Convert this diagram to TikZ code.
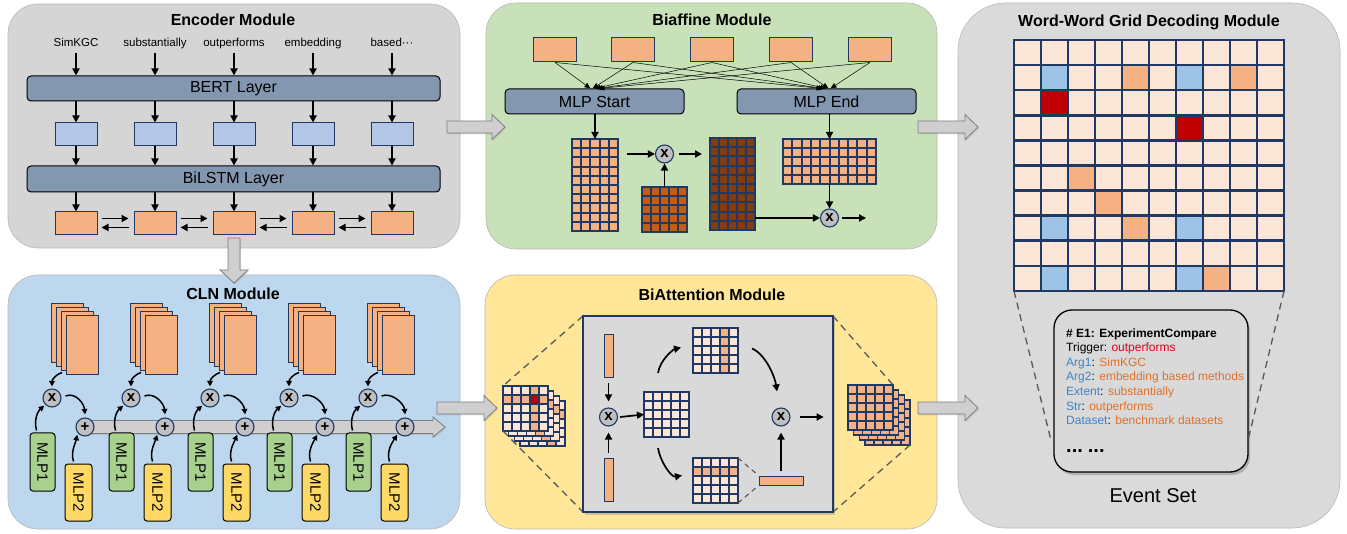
\documentclass[tikz,border=0pt]{standalone}
\usepackage{fontspec}
\setmainfont{Liberation Sans}
\usetikzlibrary{arrows.meta,shadows,calc}
\definecolor{encbg}{HTML}{D6D5D5}
\definecolor{grnbg}{HTML}{C8E1B9}
\definecolor{blubg}{HTML}{BDD7EE}
\definecolor{yelbg}{HTML}{FFE699}
\definecolor{gridbg}{HTML}{DADADA}
\definecolor{slate}{HTML}{8497B0}
\definecolor{lblue}{HTML}{B4C7E7}
\definecolor{ora}{HTML}{F4B183}
\definecolor{lora}{HTML}{FBE5D6}
\definecolor{dora}{HTML}{C55A11}
\definecolor{dbrown}{HTML}{843C0C}
\definecolor{dred}{HTML}{C00000}
\definecolor{cblue}{HTML}{9DC3E6}
\definecolor{navy}{HTML}{203864}
\definecolor{mgreen}{HTML}{A9D18E}
\definecolor{myellow}{HTML}{FFD966}
\definecolor{circ}{HTML}{BFBFBF}
\definecolor{garr}{HTML}{D0CECE}
\definecolor{garrb}{HTML}{7F7F7F}
\definecolor{tblue}{HTML}{3F83C9}
\definecolor{tora}{HTML}{E0702A}
\definecolor{tred}{HTML}{E3001B}
\definecolor{inbg}{HTML}{D9D9D9}
\newcommand{\fsz}[1]{\fontsize{#1}{#1}\selectfont}
\newcommand{\gbase}[7]{\fill[#7] (#1,#2) rectangle ({#1+#3*#5},{#2+#4*#6});}
\newcommand{\glines}[7]{%
  \foreach \ii in {0,...,#3}{\draw[navy,line width=#7,line cap=rect] ({#1+\ii*#5},#2) -- ({#1+\ii*#5},{#2+#4*#6});}%
  \foreach \jj in {0,...,#4}{\draw[navy,line width=#7,line cap=rect] (#1,{#2+\jj*#6}) -- ({#1+#3*#5},{#2+\jj*#6});}%
}
\newcommand{\gcell}[7]{\fill[#7] ({#1+#5*#3},{#2+#6*#4}) rectangle ++(#3,#4);}
\newcommand{\rblock}[3]{%
  \filldraw[garrow] (#1,{#3-6}) -- ({#2-13},{#3-6}) -- ({#2-13},{#3-12.5}) -- (#2,#3) -- ({#2-13},{#3+12.5}) -- ({#2-13},{#3+6}) -- (#1,{#3+6}) -- cycle;}
\begin{document}
\begin{tikzpicture}[x=1pt,y=-1pt,
  panel/.style={draw=white!72!black,line width=0.6pt,rounded corners=30pt},
  title/.style={font=\bfseries\fsz{16}},
  arr/.style={-{Triangle[length=7pt,width=7pt]},line width=1.7pt},
  tarr/.style={-{Triangle[length=6pt,width=5pt]},line width=0.5pt},
  carr/.style={-{Triangle[length=5.5pt,width=5.5pt]},line width=1.5pt},
  bar/.style={draw=black,fill=slate,rounded corners=4pt,line width=1pt,inner sep=0},
  ebox/.style={draw=navy,fill=#1,line width=1pt,minimum width=42pt,minimum height=23pt,inner sep=0},
  opc/.style={circle,draw=navy,fill=circ,line width=1.1pt,minimum size=18pt,inner sep=0,font=\bfseries\fsz{15}},
  garrow/.style={fill=garr,draw=garrb,line width=0.8pt,drop shadow={opacity=0.25,shadow xshift=1pt,shadow yshift=-1.5pt}},
  mlp/.style={draw=black,rounded corners=3pt,line width=1pt,minimum width=25pt,minimum height=58pt,inner sep=0,font=\fsz{15}},
  invis/.style={inner sep=0,outer sep=0},
  dashl/.style={draw=black!65,line width=1.3pt,dash pattern=on 7pt off 5pt},
  evt/.style={anchor=base west,inner sep=0,font=\fsz{12}}
]
\useasboundingbox (0,0) rectangle (1347,534);
\fill[white] (0,0) rectangle (1347,534);

% ---------- panels
\filldraw[panel,fill=encbg] (8,4) rectangle (460,248);
\filldraw[panel,fill=grnbg] (486,3) rectangle (937,249);
\filldraw[panel,fill=gridbg,rounded corners=48pt] (958,3) rectangle (1340,528);
\filldraw[panel,fill=blubg] (8,275) rectangle (460,529);
\filldraw[panel,fill=yelbg] (485,275) rectangle (937,529);

% ---------- big gray arrows
\rblock{447}{505}{127}
\rblock{918}{978}{127}
\rblock{437}{497}{408}
\rblock{918}{978}{408}
\filldraw[garrow] (228,238) -- (228,270) -- (220,270) -- (234,283) -- (248,270) -- (240,270) -- (240,238) -- cycle;

% ---------- titles
\node[title] (tenc) at (233,20) {Encoder Module};
\node[title] (tbia) at (712,20) {Biaffine Module};
\node[title] (tgrid) at (1149,22) {Word-Word Grid Decoding Module};
\node[title] (tcln) at (233,294) {CLN Module};
\node[title] (tbat) at (712,295) {BiAttention Module};

% ---------- encoder
\foreach \x/\w [count=\i] in {76/SimKGC,155/substantially,234/outperforms,313/embedding,392/based···}{
  \node[anchor=base,font=\fsz{11.5},inner sep=1pt] (w\i) at (\x,47) {\w};
}
\node[bar,minimum width=413pt,minimum height=25pt,font=\fsz{16}] (bert) at (233.5,88.5) {BERT Layer};
\node[bar,minimum width=413pt,minimum height=26pt,font=\fsz{16}] (lstm) at (233.5,179) {BiLSTM Layer};
\foreach \x [count=\i] in {76,155,234,313,392}{
  \node[ebox=lblue] (b\i) at (\x,134.5) {};
  \node[ebox=ora] (o\i) at (\x,223.5) {};
  \draw[arr] ([yshift=-6pt]w\i.base) -- (w\i.base |- bert.north);
  \draw[arr] (bert.south -| b\i) -- (b\i.north);
  \draw[arr] (b\i.south) -- (b\i.south |- lstm.north);
  \draw[arr] (lstm.south -| o\i) -- (o\i.north);
}
\foreach \i/\j in {1/2,2/3,3/4,4/5}{
  \draw[arr] ([xshift=4pt,yshift=5pt]o\i.east) -- ([xshift=-5pt,yshift=5pt]o\j.west);
  \draw[arr] ([xshift=-5pt,yshift=-4pt]o\j.west) -- ([xshift=4pt,yshift=-4pt]o\i.east);
}

% ---------- biaffine
\foreach \x [count=\i] in {555,633,712,791,870}{
  \node[ebox=ora,minimum width=43pt,minimum height=24pt] (t\i) at (\x,50) {};
}
\node[bar,minimum width=179pt,minimum height=25pt,font=\fsz{16}] (ms) at (594.5,101.5) {MLP Start};
\node[bar,minimum width=179pt,minimum height=25pt,font=\fsz{16}] (me) at (826.5,101.5) {MLP End};
\foreach \i/\d in {1/-4,2/-2,3/0,4/2,5/4}{
  \draw[tarr] (t\i.south) -- ([xshift=\d pt]ms.north);
  \draw[tarr] (t\i.south) -- ([xshift=\d pt]me.north);
}
\gbase{572}{139}{5}{10}{9.2}{9.2}{ora}
\glines{572}{139}{5}{10}{9.2}{9.2}{2pt}
\node[invis,minimum width=46pt,minimum height=92pt] (m1) at (595,185) {};
\gbase{642}{187}{5}{5}{9}{9}{dora}
\glines{642}{187}{5}{5}{9}{9}{2pt}
\node[invis,minimum width=45pt,minimum height=45pt] (m2) at (664.5,209.5) {};
\gbase{710}{138}{5}{10}{9}{9.2}{dbrown}
\glines{710}{138}{5}{10}{9}{9.2}{2pt}
\node[invis,minimum width=45pt,minimum height=92pt] (m3) at (732.5,184) {};
\gbase{783}{139}{10}{5}{9.3}{9}{ora}
\glines{783}{139}{10}{5}{9.3}{9}{2pt}
\node[invis,minimum width=93pt,minimum height=45pt] (m4) at (829.5,161.5) {};
\node[opc] (c1) at (664.5,154) {x};
\node[opc] (c2) at (829.5,218) {x};
\draw[arr] (ms.south -| m1.north) -- (m1.north);
\draw[arr] ($(m1.east |- c1)+(9,0)$) -- (c1.west);
\draw[arr] ($(c1.east)+(5,0)$) -- ($(m3.west |- c1)+(-8,0)$);
\draw[arr] (m2.north) -- (c1.south);
\draw[arr] (me.south -| m4.north) -- (m4.north);
\draw[arr] (m4.south) -- (c2.north);
\draw[arr] (m3.east |- c2) -- (c2.west);
\draw[arr] ($(c2.east)+(3,0)$) -- ($(c2.east)+(27,0)$);

% ---------- grid decoding
\gbase{1014}{40}{10}{10}{27}{25.1}{lora}
\foreach \c/\r/\k in {1/1/cblue,4/1/ora,6/1/cblue,8/1/ora,1/2/dred,6/3/dred,2/5/ora,3/6/ora,1/7/cblue,4/7/ora,6/7/cblue,1/9/cblue,6/9/cblue,7/9/ora}{
  \gcell{1014}{40}{27}{25.1}{\c}{\r}{\k}
}
\glines{1014}{40}{10}{10}{27}{25.1}{2.6pt}
\node[invis,minimum width=270pt,minimum height=251pt] (gr) at (1149,165.5) {};
\node[draw=black,fill=inbg,rounded corners=18pt,line width=1.3pt,minimum width=194pt,minimum height=162pt,inner sep=0,
  drop shadow={opacity=0.45,shadow xshift=2pt,shadow yshift=-3pt}] (ev) at (1151,391) {};
\draw[dashl] (gr.south west) -- ($(ev.south west)+(-3,-35)$);
\draw[dashl] (gr.south east) -- ($(ev.south east)+(0,-35)$);
\node[evt,font=\bfseries\fsz{12}] (l1) at (1066,337.5) {\# E1: ExperimentCompare};
\node[evt] (l2) at (1066,352) {Trigger: \textcolor{tred}{outperforms}};
\node[evt] (l3) at (1066,366.5) {\textcolor{tblue}{Arg1}: \textcolor{tora}{SimKGC}};
\node[evt] (l4) at (1066,381) {\textcolor{tblue}{Arg2}: \textcolor{tora}{embedding based methods}};
\node[evt] (l5) at (1066,395.5) {\textcolor{tblue}{Extent}: \textcolor{tora}{substantially}};
\node[evt] (l6) at (1066,410) {\textcolor{tblue}{Str}: \textcolor{tora}{outperforms}};
\node[evt] (l7) at (1066,424.5) {\textcolor{tblue}{Dataset}: \textcolor{tora}{benchmark datasets}};
\node[evt,font=\bfseries\fsz{20}] (l8) at (1066,453) {...\hspace{5pt}...};
\node[font=\fsz{20}] (es) at (1153,496) {Event Set};

% ---------- CLN
\coordinate (bs) at (85,427);
\filldraw[garrow] ($(bs)+(0,-6.5)$) -- (433,420.5) -- (433,417) -- (445,427) -- (433,437) -- (433,433.5) -- ($(bs)+(0,6.5)$) -- cycle;
\foreach \k in {0,...,4}{
  \pgfmathsetmacro{\fx}{66+79*\k}
  \foreach \l in {3,2,1}{
    \filldraw[fill=ora,draw=navy,line width=1pt] ({\fx-4.7*\l},{316-4*\l}) rectangle ++(32,59);
  }
  \node[draw=navy,fill=ora,line width=1pt,minimum width=32pt,minimum height=59pt,inner sep=0] (st\k) at ({\fx+16},345.5) {};
  \node[opc] (cx\k) at ({52+79*\k},398) {x};
  \node[opc] (pl\k) at ({85+80*\k},427) {+};
  \node[mlp,fill=mgreen] (ma\k) at ({42.5+79*\k},462) {\rotatebox{-90}{MLP1}};
  \node[mlp,fill=myellow,minimum width=27pt,minimum height=57pt] (mb\k) at ({78.5+79*\k},492.5) {\rotatebox{-90}{MLP2}};
  \draw[carr] ($(cx\k.north)+(10,-16)$) .. controls ($(cx\k.north)+(4,-14)$) and ($(cx\k.north)+(0,-9)$) .. ($(cx\k.north)+(0,-2)$);
  \draw[carr] ($(cx\k.east)+(4,-2)$) .. controls ($(cx\k.east)+(14,-6)$) and ($(pl\k.north)+(-1,-14)$) .. ($(pl\k.north)+(0,-3)$);
  \draw[carr] ($(ma\k.north)+(-6,-2)$) .. controls ($(ma\k.north)+(-9,-14)$) and ($(ma\k.north)+(-4,-22)$) .. ($(cx\k.south west)+(-1,1)$);
  \draw[carr] ($(mb\k.north)+(-5,-2)$) .. controls ($(mb\k.north)+(-8,-12)$) and ($(mb\k.north)+(-3,-20)$) .. ($(pl\k.south west)+(-1,1)$);
}

% ---------- BiAttention
% left stack
\foreach \l in {3,2,1,0}{
  \pgfmathsetmacro{\lx}{503+5.7*\l}
  \pgfmathsetmacro{\ly}{386+5*\l}
  \gbase{\lx}{\ly}{5}{5}{9}{9}{lora}
  \foreach \c in {0,...,4}{\gcell{\lx}{\ly}{9}{9}{\c}{1}{ora}}
  \foreach \r in {0,...,4}{\gcell{\lx}{\ly}{9}{9}{3}{\r}{ora}}
  \glines{\lx}{\ly}{5}{5}{9}{9}{1.5pt}
}
\gcell{503}{386}{9}{9}{3}{1}{dred}
\glines{503}{386}{5}{5}{9}{9}{1.5pt}
\node[invis,minimum width=45pt,minimum height=45pt] (lsf) at (525.5,408.5) {};
% right stack
\foreach \l in {3,2,1,0}{
  \pgfmathsetmacro{\lx}{848+5.7*\l}
  \pgfmathsetmacro{\ly}{385+5*\l}
  \gbase{\lx}{\ly}{5}{5}{9}{9}{ora}
  \glines{\lx}{\ly}{5}{5}{9}{9}{1.5pt}
}
\node[invis,minimum width=45pt,minimum height=45pt] (rsf) at (870.5,407.5) {};
\node[invis,minimum width=45pt,minimum height=45pt] (rsb) at (887.6,422.5) {};
\draw[dashl] (583,316) -- (lsf.north west);
\draw[dashl] (lsf.south west) -- (583,512);
\draw[dashl] (833,316) -- (rsf.north east);
\draw[dashl] (rsb.south east) -- (833,512);
\node[draw=navy,fill=inbg,line width=1.3pt,minimum width=250pt,minimum height=196pt,inner sep=0,
  drop shadow={opacity=0.35,shadow xshift=2pt,shadow yshift=-3pt}] (ib) at (708,414) {};
\node[draw=navy,fill=ora,line width=1pt,minimum width=9pt,minimum height=43pt,inner sep=0] (vt) at (608.5,356.5) {};
\node[draw=navy,fill=ora,line width=1pt,minimum width=9pt,minimum height=43pt,inner sep=0] (vb) at (608.5,479.5) {};
\node[opc] (c3) at (608.5,417) {x};
\node[opc] (c4) at (781,417) {x};
\gbase{644}{392}{5}{5}{9}{9}{lora}
\glines{644}{392}{5}{5}{9}{9}{1.8pt}
\node[invis,minimum width=45pt,minimum height=45pt] (mm) at (666.5,414.5) {};
\gbase{693}{328}{5}{5}{9}{9}{lora}
\foreach \r in {0,...,4}{\gcell{693}{328}{9}{9}{3}{\r}{ora}}
\glines{693}{328}{5}{5}{9}{9}{1.8pt}
\node[invis,minimum width=45pt,minimum height=45pt] (tm) at (715.5,350.5) {};
\gbase{693}{458}{5}{5}{9}{9}{lora}
\foreach \c in {0,...,4}{\gcell{693}{458}{9}{9}{\c}{1}{ora}}
\glines{693}{458}{5}{5}{9}{9}{1.8pt}
\node[invis,minimum width=45pt,minimum height=45pt] (bm) at (715.5,480.5) {};
\node[draw=navy,fill=ora,line width=1pt,minimum width=44pt,minimum height=9pt,inner sep=0] (hb) at (781,480.5) {};
\draw[arr] ($(vt.south)+(0,5)$) -- ($(c3.north)+(0,-6)$);
\draw[arr] ($(vb.north)+(0,-5)$) -- ($(c3.south)+(0,6)$);
\draw[arr] ($(c3.east)+(2,0)$) -- (mm.west);
\draw[arr] ($(mm.north west)+(14,-19)$) .. controls ($(mm.north west)+(16,-32)$) and ($(tm.west)+(-20,-1)$) .. ($(tm.west)+(-12,-3)$);
\draw[arr] ($(tm.east)+(14,-2)$) .. controls ($(tm.east)+(28,4)$) and ($(c4.north)+(-6,-30)$) .. ($(c4.north)+(-4,-16)$);
\draw[arr] ($(mm.south west)+(14,11)$) .. controls ($(mm.south west)+(16,24)$) and ($(bm.west)+(-22,-3)$) .. ($(bm.west)+(-11,-5)$);
\draw[dashl,line width=1.1pt,dash pattern=on 5pt off 4pt] (bm.north east) -- (hb.north west);
\draw[dashl,line width=1.1pt,dash pattern=on 5pt off 4pt] (bm.south east) -- (hb.south west);
\draw[arr] ($(hb.north)+(0,-5)$) -- ($(c4.south)+(0,6)$);
\draw[arr] ($(c4.east)+(9,0)$) -- ($(ib.east |- c4)+(-10,0)$);
\end{tikzpicture}
\end{document}
